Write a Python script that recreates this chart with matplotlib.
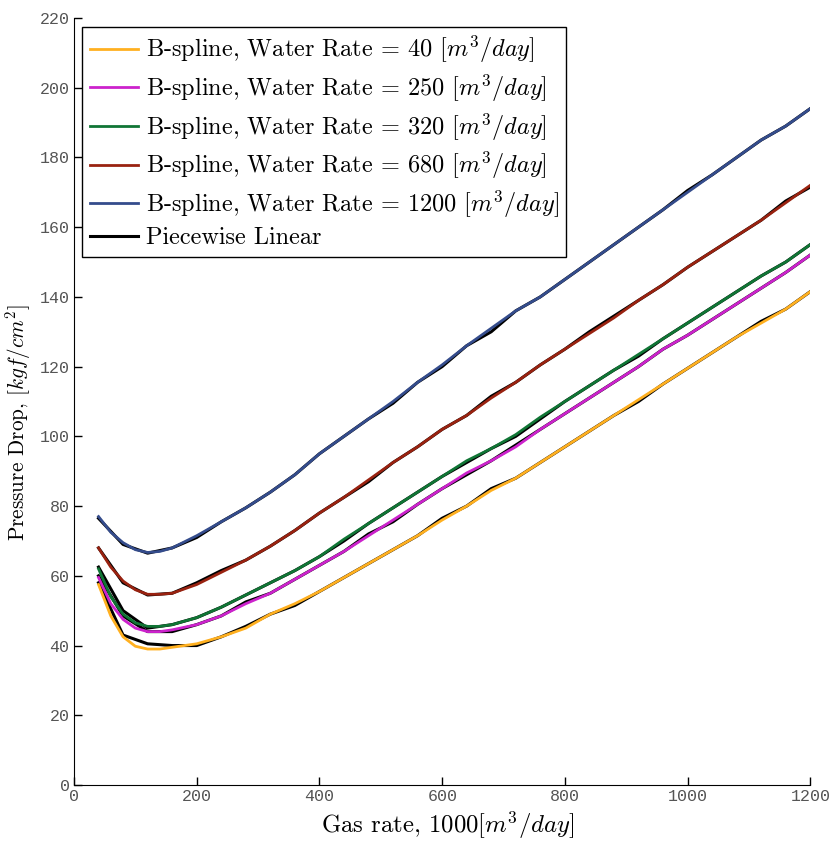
import matplotlib
matplotlib.use("Agg")
import matplotlib.pyplot as plt

plt.rcParams['mathtext.fontset'] = 'cm'
plt.rcParams['font.family'] = ['cmr10', 'DejaVu Serif']
plt.rcParams['axes.formatter.use_mathtext'] = True

gas = [40, 80, 120, 160, 200, 240, 280, 320, 360, 400, 440, 480, 520, 560, 600,
       640, 680, 720, 760, 800, 840, 880, 920, 960, 1000, 1040, 1080, 1120, 1160, 1200]
gas_s = [40, 60, 80, 100, 120, 140, 160, 200, 240, 280, 320, 360, 400, 440, 480, 520, 560, 600,
         640, 680, 720, 760, 800, 840, 880, 920, 960, 1000, 1040, 1080, 1120, 1160, 1200]

spline_40 = [57.5, 48.5, 42.5, 39.8, 39, 39, 39.5, 40.5, 42.5, 45, 49, 52, 55.5, 59.5, 63.5, 67.5, 71.5, 76,
             80, 84.5, 88, 92.5, 97, 101.5, 106, 110.5, 115, 119.5, 124, 128.5, 132.5, 136.5, 141.5]
spline_250 = [59.5, 52, 47.5, 45, 44, 44, 44.5, 46, 48.5, 52, 55, 59, 63, 67, 71.5, 76, 80.5, 85,
              89.5, 93, 97, 102, 106.5, 111, 115.5, 120, 125, 129, 133.5, 138, 142.5, 147, 152]
spline_320 = [62, 54, 49, 46.5, 45.5, 45.5, 46, 48, 51, 54.5, 58, 61.5, 65.5, 70.5, 75, 79.5, 84, 88.5,
              93, 96.5, 100.5, 105.5, 110, 114.5, 119, 123.5, 128, 132.5, 137, 141.5, 146, 150, 155]
spline_680 = [68, 62.5, 58.5, 56, 54.7, 54.7, 55, 57.5, 61, 64.5, 68.5, 73, 78, 82.5, 87.5, 92.5, 97, 102,
              106, 111, 115.5, 120.5, 125, 129.5, 134, 139, 143.5, 148.5, 153, 157.5, 162, 167, 172]
spline_1200 = [77, 72.5, 69.5, 67.5, 66.7, 67, 68, 71.5, 75.5, 79.5, 84, 89, 95, 100, 105, 110, 115.5, 120.5,
               126, 131, 136, 140, 145, 150, 155, 160, 165, 170, 175, 180, 185, 189, 194]

pw_40 = [58, 43, 40.5, 40, 40, 42.5, 45.5, 49, 51.5, 55.5, 59.5, 63.5, 67.5, 71.5, 76.5,
         80, 85, 88, 92.5, 97, 101.5, 106, 110, 115, 119.5, 124, 128.5, 133, 136.5, 141.5]
pw_250 = [60, 48.5, 44, 44, 46, 48.5, 52.5, 55, 59, 63, 67, 72, 75.5, 80.5, 85,
          89, 93, 97.5, 102, 106.5, 111, 115.5, 120, 125, 129, 133.5, 138, 142.5, 147, 152]
pw_320 = [62.5, 50, 45, 46, 48, 51, 54.5, 58, 61.5, 65.5, 70, 75, 79.5, 84, 88.5,
          92.5, 96.5, 100, 105, 110, 114.5, 119, 123, 128, 132.5, 137, 141.5, 146, 150, 155]
pw_680 = [68, 58, 54.5, 55, 58, 61.5, 64.5, 68.5, 73, 78, 82.5, 87, 92.5, 97, 102,
          106, 111.5, 115.5, 120.5, 125, 130, 134.5, 139, 143.5, 148.5, 153, 157.5, 162, 167.5, 171.5]
pw_1200 = [76.5, 69, 66.5, 68, 71, 75.5, 79.5, 84, 89, 95, 100, 105, 109.5, 115.5, 120,
           126, 130, 136, 140, 145, 150, 155, 160, 165, 170.5, 175, 180, 185, 189, 194]

labels = ['B-spline, Water Rate = 40 $[m^3/day]$',
          'B-spline, Water Rate = 250 $[m^3/day]$',
          'B-spline, Water Rate = 320 $[m^3/day]$',
          'B-spline, Water Rate = 680 $[m^3/day]$',
          'B-spline, Water Rate = 1200 $[m^3/day]$']
colors = ['#FFB020', '#CC22CC', '#107535', '#992210', '#344C8C']

splines = [spline_40, spline_250, spline_320, spline_680, spline_1200]
pws = [pw_40, pw_250, pw_320, pw_680, pw_1200]

fig = plt.figure(figsize=(8.37, 8.42), dpi=100)
ax = fig.add_axes([0.0884, 0.0677, 0.8796, 0.9109])

handles = []
for pw in pws:
    hb, = ax.plot(gas, pw, color='black', lw=2.2, zorder=2)
for s, c, lab in zip(splines, colors, labels):
    h, = ax.plot(gas_s, s, color=c, lw=2.0, zorder=3, label=lab)
    handles.append(h)
hb.set_label('Piecewise Linear')
handles.append(hb)

ax.set_xlim(0, 1200)
ax.set_ylim(0, 220)
ax.set_xticks(range(0, 1201, 200))
ax.set_yticks(range(0, 221, 20))
ax.spines['top'].set_visible(False)
ax.spines['right'].set_visible(False)
ax.tick_params(direction='in', length=6, width=1, labelsize=12, labelcolor='#555555', pad=3)
for lab in ax.get_xticklabels() + ax.get_yticklabels():
    lab.set_family('Liberation Mono')

ax.set_xlabel('Gas rate, 1000$[m^3/day]$', fontsize=17.8)
ax.xaxis.set_label_coords(0.508, -0.032)
ax.set_ylabel('Pressure Drop, $[kgf/cm^2]$', fontsize=15.3)
ax.yaxis.set_label_coords(-0.055, 0.473)

leg = ax.legend(handles=handles, loc='upper left', fontsize=17.5, frameon=True, fancybox=False,
                edgecolor='black', framealpha=1, handlelength=2.0, handletextpad=0.3,
                labelspacing=0.3, borderpad=0.3, borderaxespad=0.35)
leg.get_frame().set_linewidth(1.0)

fig.savefig('out.png', dpi=100)
